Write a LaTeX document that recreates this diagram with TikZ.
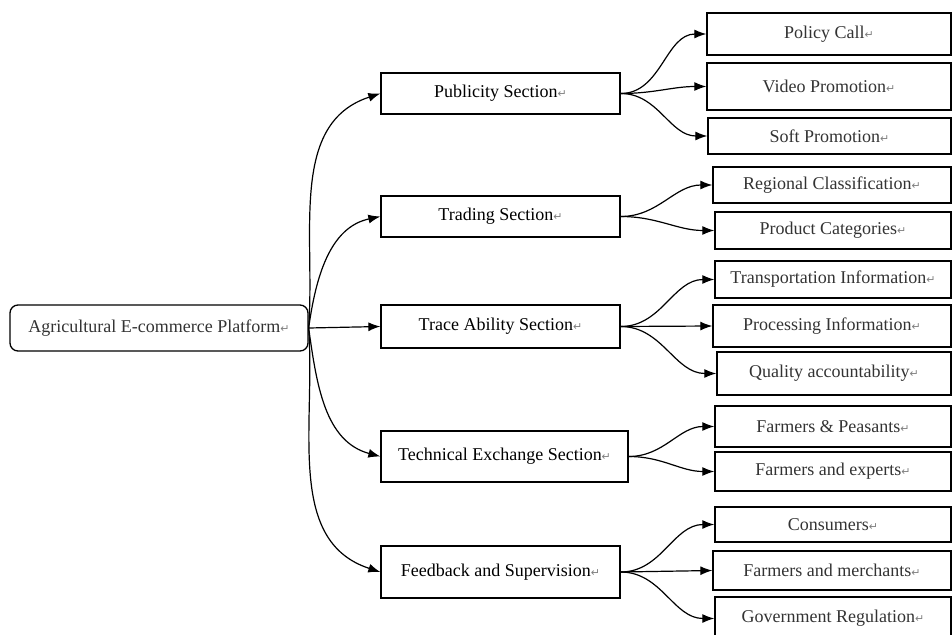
\documentclass[tikz,border=0pt]{standalone}
\usepackage{fontspec}
\setmainfont{Liberation Serif}
\newfontfamily\dejavu{DejaVu Sans}
\usetikzlibrary{arrows.meta}
\newcommand{\parmark}{{\dejavu\fontsize{11}{11}\selectfont\textcolor{gray}{↵}}}

\begin{document}
\begin{tikzpicture}[x=1pt, y=-1pt,
  every node/.style = {shape=rectangle, draw, line width=1.3pt,
    align=center, inner sep=2pt,
    font=\fontsize{18}{20}\selectfont},
  root/.style = {rounded corners=8pt, text=black!80},
  sect/.style = {text=black},
  leaf/.style = {text=black!80},
  link/.style = {line width=1.2pt, -{Latex[length=12pt,width=9pt]}}]
  \useasboundingbox (0,0) rectangle (952,634);
  \clip (0,0) rectangle (952,634);

  \node[root, minimum width=298, minimum height=46] (plat) at (159,328) {Agricultural E-commerce Platform\parmark};

  \node[sect, minimum width=239, minimum height=41] (pub) at (500.5,93.5) {Publicity Section\parmark};
  \node[sect, minimum width=239, minimum height=41] (trade) at (500.5,216.5) {Trading Section\parmark};
  \node[sect, minimum width=239, minimum height=43] (trace) at (500.5,326.5) {Trace Ability Section\parmark};
  \node[sect, minimum width=247, minimum height=51] (tech) at (504.5,456.5) {Technical Exchange Section\parmark};
  \node[sect, minimum width=239, minimum height=52] (feed) at (500.5,572) {Feedback and Supervision\parmark};

  \node[leaf, minimum width=244, minimum height=42] (policy) at (829,34) {Policy Call\parmark};
  \node[leaf, minimum width=244, minimum height=47] (video) at (829,86.5) {Video Promotion\parmark};
  \node[leaf, minimum width=243, minimum height=36] (soft) at (829.5,136) {Soft Promotion\parmark};
  \node[leaf, minimum width=238, minimum height=36] (region) at (832,185) {Regional Classification\parmark};
  \node[leaf, minimum width=236, minimum height=37] (product) at (833,230.5) {Product Categories\parmark};
  \node[leaf, minimum width=236, minimum height=37] (transport) at (833,279.5) {Transportation Information\parmark};
  \node[leaf, minimum width=238, minimum height=42] (process) at (832,326) {Processing Information\parmark};
  \node[leaf, minimum width=234, minimum height=43] (quality) at (834,373.5) {Quality accountability\parmark};
  \node[leaf, minimum width=236, minimum height=41] (peasant) at (833,426.5) {Farmers \& Peasants\parmark};
  \node[leaf, minimum width=236, minimum height=39] (expert) at (833,471.5) {Farmers and experts\parmark};
  \node[leaf, minimum width=236, minimum height=35] (consumer) at (833,524.5) {Consumers\parmark};
  \node[leaf, minimum width=238, minimum height=39] (merchant) at (832,570.5) {Farmers and merchants\parmark};
  \node[leaf, minimum width=236, minimum height=43] (govern) at (833,618.5) {Government Regulation\parmark};

  \draw[link] (plat.east) to[out=86, in=198] (pub.west);
  \draw[link] (plat.east) to[out=82, in=192] (trade.west);
  \draw[link] (plat.east) -- (trace.west);
  \draw[link] (plat.east) to[out=-82, in=165] (tech.west);
  \draw[link] (plat.east) to[out=-86, in=162] (feed.west);

  \draw[link] (pub.east) to[out=0, in=180] (policy.west);
  \draw[link] (pub.east) to[out=0, in=180] (video.west);
  \draw[link] (pub.east) to[out=0, in=180] (soft.west);
  \draw[link] (trade.east) to[out=0, in=180] (region.west);
  \draw[link] (trade.east) to[out=0, in=180] (product.west);
  \draw[link] (trace.east) to[out=0, in=180] (transport.west);
  \draw[link] (trace.east) -- (process.west);
  \draw[link] (trace.east) to[out=0, in=180] (quality.west);
  \draw[link] (tech.east) to[out=0, in=180] (peasant.west);
  \draw[link] (tech.east) to[out=0, in=180] (expert.west);
  \draw[link] (feed.east) to[out=0, in=180] (consumer.west);
  \draw[link] (feed.east) -- (merchant.west);
  \draw[link] (feed.east) to[out=0, in=180] (govern.west);
\end{tikzpicture}
\end{document}
